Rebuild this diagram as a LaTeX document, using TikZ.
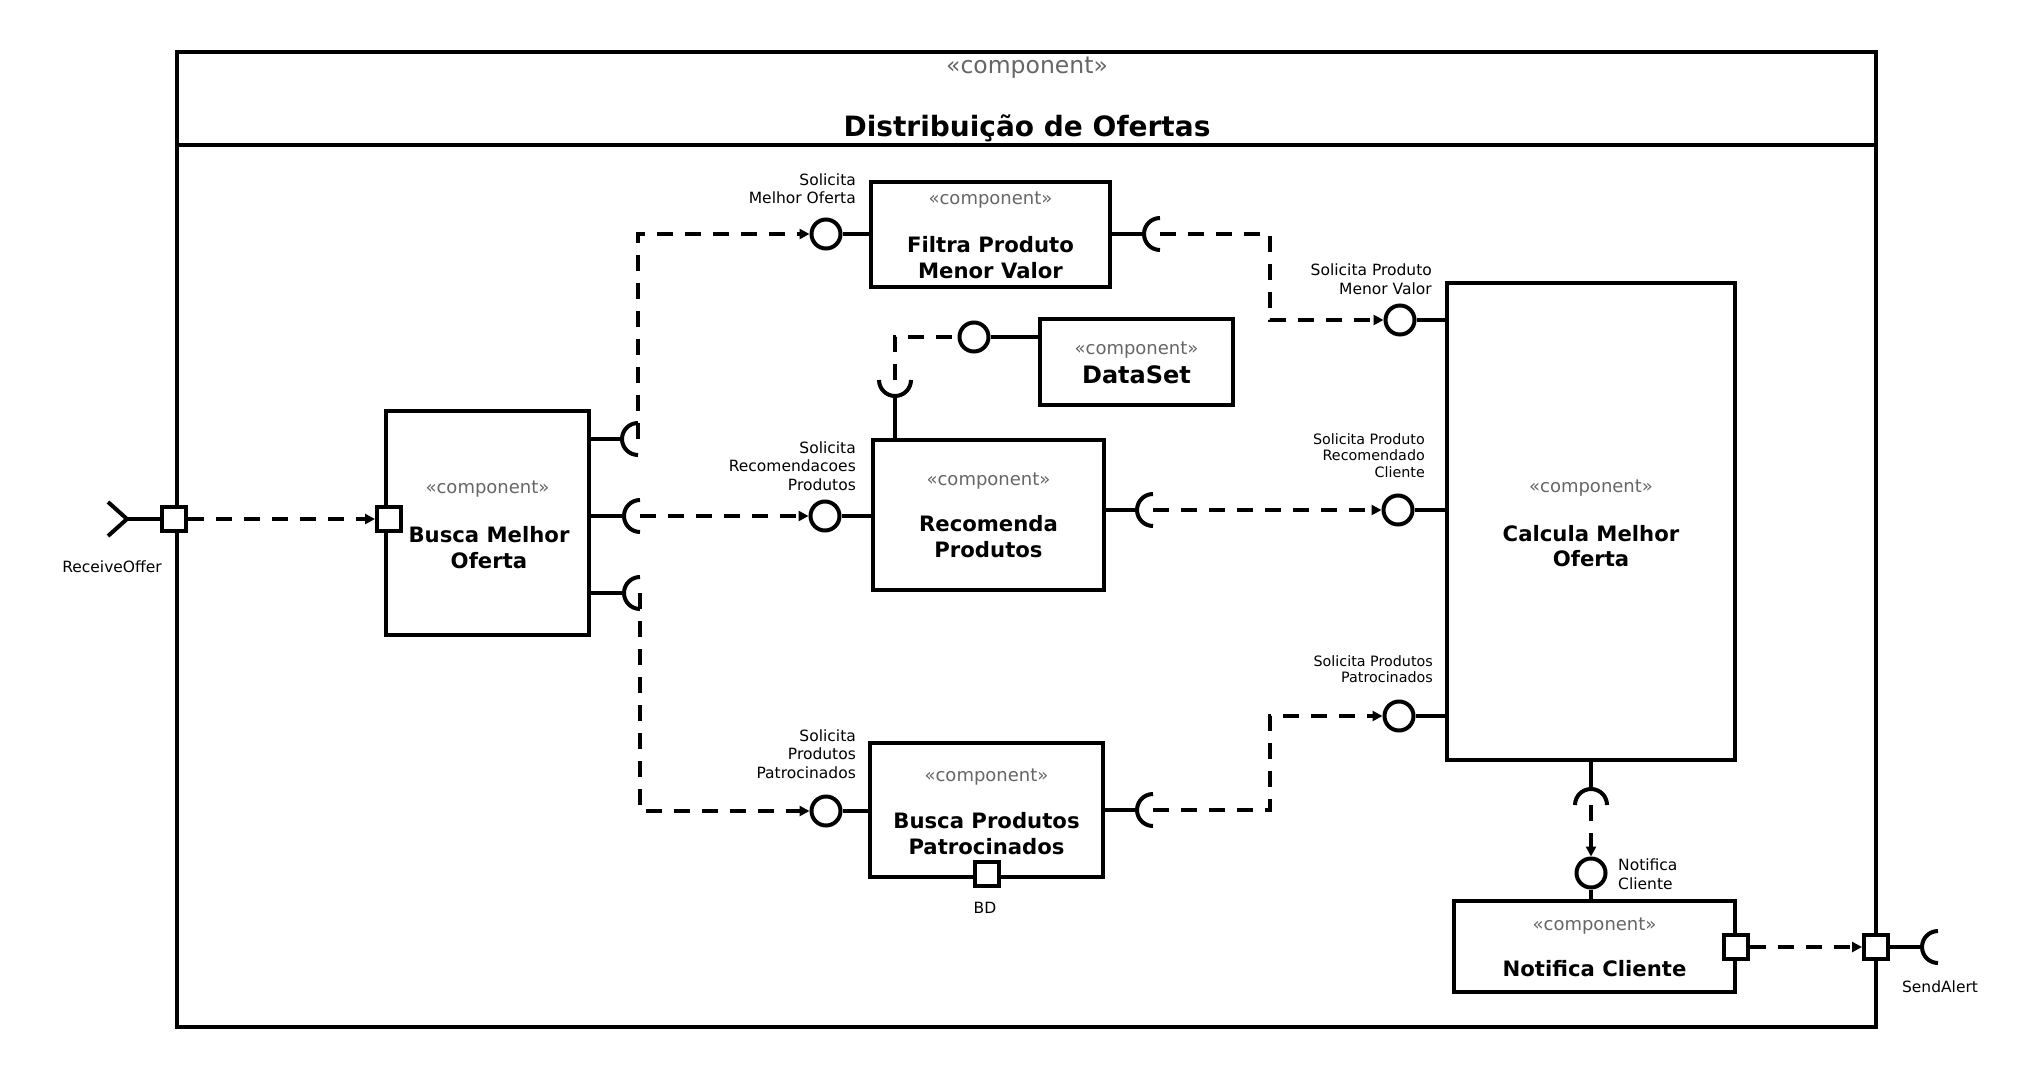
\documentclass[tikz,border=0pt]{standalone}
\usepackage{fontspec}
\setmainfont{DejaVu Sans}
\usetikzlibrary{arrows.meta,calc}
\definecolor{stereogray}{HTML}{666666}
\tikzset{
  uml/.style={line width=4pt},
  compbox/.style={draw, line width=4pt, rectangle, inner sep=0pt, fill=white},
  portbox/.style={draw, line width=4pt, rectangle, inner sep=0pt, minimum size=24pt, fill=white},
  lolli/.style={draw, line width=4pt, circle, inner sep=0pt, minimum size=29pt, fill=white},
  dep/.style={line width=4pt, dash pattern=on 16pt off 12pt, -{Triangle[length=10pt,width=10pt]}},
  stereo/.style={text=stereogray, font=\fontsize{18}{21}\selectfont, inner sep=0pt},
  cname/.style={font=\fontsize{21.2}{25.5}\selectfont\bfseries, align=center, inner sep=0pt},
  lbl/.style={font=\fontsize{15.5}{18.5}\selectfont, inner sep=0pt},
  smalllbl/.style={font=\fontsize{14.3}{16.5}\selectfont, inner sep=0pt},
}
\newcommand{\socket}[2]{\draw[uml] ([shift={(#2:16pt)}]#1) arc[start angle=#2, delta angle=180, radius=16pt];}

\begin{document}
\begin{tikzpicture}[x=1pt,y=-1pt]
    \useasboundingbox (0,0) rectangle (2040,1068);
    \node[compbox, minimum width=1699pt, minimum height=975pt] (frame) at (1026.5,539.5) {};
    \coordinate (hdr) at (0,145);
    \draw[uml] (frame.west |- hdr) -- (frame.east |- hdr);
    \node[stereo, font=\fontsize{23.5}{27}\selectfont] (framest) at (1027,68) {«component»};
    \node[cname, font=\fontsize{28}{32}\selectfont\bfseries] (frametitle) at (1027,128) {Distribuição de Ofertas};

    \node[compbox, minimum width=203pt, minimum height=224pt] (busca) at (487.5,523) {};
    \node[compbox, minimum width=239pt, minimum height=105pt] (filtra) at (990.5,234.5) {};
    \node[compbox, minimum width=193pt, minimum height=86pt] (dataset) at (1136.5,362) {};
    \node[compbox, minimum width=231pt, minimum height=150pt] (recomenda) at (988.5,515) {};
    \node[compbox, minimum width=233pt, minimum height=134pt] (buscaprod) at (986.5,810) {};
    \node[compbox, minimum width=288pt, minimum height=477pt] (calcula) at (1591,521.5) {};
    \node[compbox, minimum width=281pt, minimum height=91pt] (notifica) at (1594.5,946.5) {};

    \node[stereo] (buscast) at (487.5,489) {«component»};
    \node[cname] (buscanm) at (489,547.5) {Busca Melhor\\Oferta};
    \node[stereo] (filtrast) at (990.5,200) {«component»};
    \node[cname] (filtranm) at (990.5,257.5) {Filtra Produto\\Menor Valor};
    \node[stereo] (datasetst) at (1136.5,350) {«component»};
    \node[cname, font=\fontsize{24}{28}\selectfont\bfseries] (datasetnm) at (1136.5,375) {DataSet};
    \node[stereo] (recomendast) at (988.5,481) {«component»};
    \node[cname] (recomendanm) at (988.5,536.5) {Recomenda\\Produtos};
    \node[stereo] (buscaprodst) at (986.5,777) {«component»};
    \node[cname] (buscaprodnm) at (986.5,833.5) {Busca Produtos\\Patrocinados};
    \node[stereo] (calculast) at (1591,488) {«component»};
    \node[cname] (calculanm) at (1591,546) {Calcula Melhor\\Oferta};
    \node[stereo] (notificast) at (1594.5,926) {«component»};
    \node[cname] (notificanm) at (1594.5,969) {Notifica Cliente};

    \node[lolli] (cfiltra) at (826,234) {};
    \node[lolli] (creco) at (825,516) {};
    \node[lolli] (cbprod) at (826,811) {};
    \node[lolli] (cdataset) at (974,337) {};
    \node[lolli] (ccalc1) at (1400,320) {};
    \node[lolli] (ccalc2) at (1398,510) {};
    \node[lolli] (ccalc3) at (1399,716) {};
    \node[lolli] (cnotif) at (1591,873) {};

    \coordinate (sbusca1) at (638,439);
    \coordinate (sbusca2) at (640,516);
    \coordinate (sbusca3) at (640,593);
    \coordinate (sfiltra) at (1160,234);
    \coordinate (sreco) at (1153,510);
    \coordinate (sbprod) at (1153,810);
    \coordinate (srecotop) at (895,380);
    \coordinate (scalc) at (1591,805);
    \coordinate (ssend) at (1938,947);
    \coordinate (rtip) at (127,519);
    \coordinate (k1) at (1270,0);

    \socket{sbusca1}{90}
    \socket{sbusca2}{90}
    \socket{sbusca3}{90}
    \socket{sfiltra}{90}
    \socket{sreco}{90}
    \socket{sbprod}{90}
    \socket{srecotop}{180}
    \socket{scalc}{0}
    \socket{ssend}{90}

    \draw[uml] (busca.east |- sbusca1) -- ([xshift=-16pt]sbusca1);
    \draw[uml] (busca.east |- sbusca2) -- ([xshift=-16pt]sbusca2);
    \draw[uml] (busca.east |- sbusca3) -- ([xshift=-16pt]sbusca3);
    \draw[uml] (filtra.east |- sfiltra) -- ([xshift=-16pt]sfiltra);
    \draw[uml] (recomenda.east |- sreco) -- ([xshift=-16pt]sreco);
    \draw[uml] (buscaprod.east |- sbprod) -- ([xshift=-16pt]sbprod);
    \draw[uml] ([yshift=-16pt]srecotop) -- (srecotop |- recomenda.north);
    \draw[uml] (calcula.south) -- ([yshift=16pt]scalc);

    \draw[uml] (cfiltra) -- (cfiltra -| filtra.west);
    \draw[uml] (creco) -- (creco -| recomenda.west);
    \draw[uml] (cbprod) -- (cbprod -| buscaprod.west);
    \draw[uml] (cdataset) -- (cdataset -| dataset.west);
    \draw[uml] (ccalc1) -- (ccalc1 -| calcula.west);
    \draw[uml] (ccalc2) -- (ccalc2 -| calcula.west);
    \draw[uml] (ccalc3) -- (ccalc3 -| calcula.west);
    \draw[uml] (cnotif) -- (cnotif |- notifica.north);

    \node[portbox] (pin) at (174,519) {};
    \node[portbox] (pbusca) at (389,519) {};
    \node[portbox] (pbd) at (987,874) {};
    \node[portbox] (pnotif) at (1736,947) {};
    \node[portbox] (pout) at (1876,947) {};
    \draw[uml] ([shift={(-19pt,17pt)}]rtip) -- (rtip) -- ([shift={(-19pt,-17pt)}]rtip);
    \draw[uml] (rtip) -- (pin.west);
    \draw[uml] (pout.east) -- ([xshift=-16pt]ssend);

    \draw[dep] (pin.east) -- (pbusca.west);
    \draw[dep] (sbusca1) -- (sbusca1 |- cfiltra) -- (cfiltra);
    \draw[dep] (sbusca2) -- (creco);
    \draw[dep] (sbusca3) -- (sbusca3 |- cbprod) -- (cbprod);
    \draw[dep] (sfiltra) -- (sfiltra -| k1) -- (k1 |- ccalc1) -- (ccalc1);
    \draw[dep] (sreco) -- (ccalc2);
    \draw[dep] (sbprod) -- (sbprod -| k1) -- (k1 |- ccalc3) -- (ccalc3);
    \draw[dep, -] (srecotop) -- (srecotop |- cdataset) -- (cdataset);
    \draw[dep] (scalc) -- (cnotif);
    \draw[dep] (pnotif.east) -- (pout.west);

    \node[lbl, anchor=east, align=right] (lmelhor) at (856,188.5) {Solicita\\Melhor Oferta};
    \node[lbl, anchor=east, align=right] (lreco) at (856,466) {Solicita\\Recomendacoes\\Produtos};
    \node[lbl, anchor=east, align=right] (lpatro) at (856,754) {Solicita\\Produtos\\Patrocinados};
    \node[lbl, anchor=east, align=right] (lmenor) at (1432,279) {Solicita Produto\\Menor Valor};
    \node[smalllbl, anchor=east, align=right] (lreccli) at (1425,455.5) {Solicita Produto\\Recomendado\\Cliente};
    \node[smalllbl, anchor=east, align=right] (lpatcalc) at (1433,669) {Solicita Produtos\\Patrocinados};
    \node[lbl, anchor=west, align=left] (lnotif) at (1618,874) {Notifica\\Cliente};
    \node[lbl] (lin) at (112,567) {ReceiveOffer};
    \node[lbl] (lbd) at (985,908) {BD};
    \node[lbl] (lsend) at (1940,987) {SendAlert};
\end{tikzpicture}
\end{document}
